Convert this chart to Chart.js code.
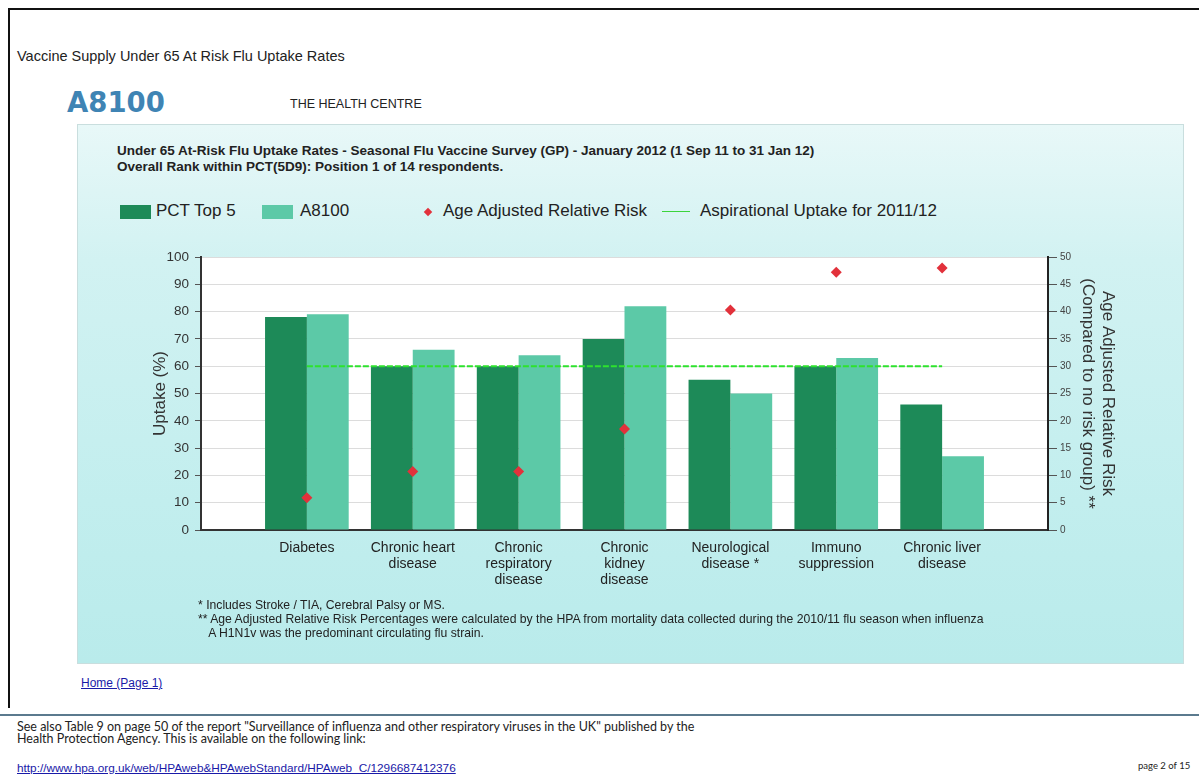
<!DOCTYPE html>
<html>
<head>
<meta charset="utf-8">
<title>Under 65 At-Risk Flu Uptake Rates</title>
<script src="https://cdn.jsdelivr.net/npm/chart.js@4.4.1/dist/chart.umd.min.js"></script>
<style>
  body { margin: 0; width: 1199px; height: 780px; overflow: hidden; background: #fff;
         font-family: "Liberation Sans", Arial, sans-serif; color: #222; position: relative; }
  .abs { position: absolute; white-space: nowrap; }
  #frame { position: absolute; left: 8px; top: 8px; width: 1200px; height: 698px;
           border-left: 2px solid #111; border-top: 2px solid #111; }
  #panel { position: absolute; left: 77px; top: 124px; width: 1105px; height: 538px;
           border: 1px solid #c9dede;
           background: linear-gradient(#e8f8f8 0%, #d2f2f2 25%, #c2eeee 70%, #b9ebeb 100%); }
  .legend { position: absolute; top: 201px; font-size: 17px; color: #222; }
  .sw { position: absolute; width: 31px; height: 14px; }
  .dia { position: absolute; width: 6px; height: 6px; background: #e2313b; transform: rotate(45deg); }
  .ln { position: absolute; width: 28px; height: 0; border-top: 1.5px solid #3cd43c; }
  .note { font-size: 12.2px; color: #222; }
  .foot { font-family: Lato, "Open Sans", sans-serif; font-size: 12.5px; color: #222; }
  a { color: #1a1aa8; }
  #chartBox { position: absolute; left: 140px; top: 240px; width: 1040px; height: 360px; }
</style>
</head>
<body>
<div id="frame"></div>
<div class="abs" style="left:17px; top:48px; font-size:14.5px;">Vaccine Supply Under 65 At Risk Flu Uptake Rates</div>
<div class="abs" style="left:67px; top:86px; font-family:'DejaVu Sans'; font-size:27.5px; font-weight:bold; color:#3f84b4;">A8100</div>
<div class="abs" style="left:290px; top:97px; font-size:12.5px;">THE HEALTH CENTRE</div>

<div id="panel"></div>
<div class="abs" style="left:117px; top:143px; font-size:13.5px; font-weight:bold; line-height:16px;">
Under 65 At-Risk Flu Uptake Rates - Seasonal Flu Vaccine Survey (GP) - January 2012 (1 Sep 11 to 31 Jan 12)<br>
Overall Rank within PCT(5D9): Position 1 of 14 respondents.</div>

<div class="sw" style="left:120px; top:205px; background:#1d8a58;"></div>
<div class="legend" style="left:156px;">PCT Top 5</div>
<div class="sw" style="left:262px; top:205px; background:#5cc9a7;"></div>
<div class="legend" style="left:300px;">A8100</div>
<div class="dia" style="left:425px; top:209px;"></div>
<div class="legend" style="left:443px;">Age Adjusted Relative Risk</div>
<div class="ln" style="left:662px; top:211px;"></div>
<div class="legend" style="left:700px;">Aspirational Uptake for 2011/12</div>

<div id="chartBox"><canvas id="chart" width="1040" height="360"></canvas></div>

<div class="abs note" style="left:198px; top:598px; line-height:14px;">
* Includes Stroke / TIA, Cerebral Palsy or MS.<br>
** Age Adjusted Relative Risk Percentages were calculated by the HPA from mortality data collected during the 2010/11 flu season when influenza<br>
&nbsp;&nbsp;&nbsp;A H1N1v was the predominant circulating flu strain.</div>

<div class="abs" style="left:81px; top:676px; font-size:12px;"><a href="#">Home (Page 1)</a></div>
<div class="abs" style="left:0; top:714px; width:1199px; height:2px; background:#5b7a8e;"></div>
<div class="abs foot" style="left:17px; top:721px; line-height:12px;">
See also Table 9 on page 50 of the report "Surveillance of influenza and other respiratory viruses in the UK" published by the<br>
Health Protection Agency. This is available on the following link:</div>
<div class="abs" style="left:17px; top:761px; font-size:11.8px;"><a href="#">http://www.hpa.org.uk/web/HPAweb&amp;HPAwebStandard/HPAweb_C/1296687412376</a></div>
<div class="abs foot" style="left:1138px; top:760px; font-size:9.5px;">page 2 of 15</div>

<script>
// categories (multi-line labels)
const categories = [
  ['Diabetes'],
  ['Chronic heart', 'disease'],
  ['Chronic', 'respiratory', 'disease'],
  ['Chronic', 'kidney', 'disease'],
  ['Neurological', 'disease *'],
  ['Immuno', 'suppression'],
  ['Chronic liver', 'disease']
];
const pctTop5 = [78, 60, 60, 70, 55, 60, 46];
const a8100 = [79, 66, 64, 82, 50, 63, 27];
const relativeRisk = [5.9, 10.7, 10.7, 18.5, 40.3, 47.2, 48.0];
const aspirational = [60, 60, 60, 60, 60, 60, 60];
const uptakeTicks = [0, 10, 20, 30, 40, 50, 60, 70, 80, 90, 100];
const riskTicks = [0, 5, 10, 15, 20, 25, 30, 35, 40, 45, 50];

// one empty slot each side so the groups sit a full step in from the axes
const pad = arr => [null, ...arr, null];
const labels = ['', ...categories, ''];

const plotBg = {
  id: 'plotBg',
  beforeDraw(chart) {
    const { ctx, chartArea: a } = chart;
    ctx.save();
    ctx.fillStyle = '#ffffff';
    ctx.fillRect(a.left, a.top, a.right - a.left, a.bottom - a.top);
    ctx.restore();
  }
};

new Chart(document.getElementById('chart'), {
  type: 'bar',
  data: {
    labels: labels,
    datasets: [
      {
        type: 'line', label: 'Age Adjusted Relative Risk', data: pad(relativeRisk), yAxisID: 'y2',
        showLine: false, pointStyle: 'rectRot', pointRadius: 5.5, pointBackgroundColor: '#e2313b',
        pointBorderWidth: 0, order: 0
      },
      {
        type: 'line', label: 'Aspirational Uptake for 2011/12', data: pad(aspirational), yAxisID: 'y',
        borderColor: '#2ee22e', borderWidth: 2, borderDash: [6, 2], pointRadius: 0, order: 1
      },
      { label: 'PCT Top 5', data: pad(pctTop5), backgroundColor: '#1d8a58', yAxisID: 'y', order: 2 },
      { label: 'A8100', data: pad(a8100), backgroundColor: '#5cc9a7', yAxisID: 'y', order: 3 }
    ]
  },
  options: {
    responsive: false,
    animation: false,
    devicePixelRatio: 1,
    layout: { padding: { top: 17, left: 0, right: 0, bottom: 0 } },
    datasets: { bar: { barPercentage: 1.0, categoryPercentage: 0.79 } },
    plugins: { legend: { display: false }, tooltip: { enabled: false } },
    scales: {
      x: {
        offset: false,
        grid: { display: false, drawTicks: false },
        border: { color: '#333', width: 2 },
        ticks: {
          autoSkip: false, maxRotation: 0, padding: 10, color: '#222',
          font: { family: 'Liberation Sans', size: 14, lineHeight: 1.15 }
        },
        afterFit(s) { s.height = 70; }
      },
      y: {
        position: 'left', min: 0, max: 100,
        afterBuildTicks(s) { s.ticks = uptakeTicks.map(v => ({ value: v })); },
        grid: { color: '#dcdcdc', lineWidth: 1, tickLength: 6, tickColor: '#555' },
        border: { color: '#333', width: 2 },
        ticks: { padding: 6, color: '#333', font: { family: 'Liberation Sans', size: 13.5 } },
        title: {
          display: true, text: 'Uptake (%)', color: '#333', padding: { top: 10, bottom: 0 },
          font: { family: 'Liberation Sans', size: 17 }
        },
        afterFit(s) { s.width = 61; }
      },
      y2: {
        position: 'right', min: 0, max: 50,
        afterBuildTicks(s) { s.ticks = riskTicks.map(v => ({ value: v })); },
        grid: { drawOnChartArea: false, tickLength: 9, tickColor: '#555' },
        border: { color: '#222', width: 2 },
        ticks: { padding: 3, color: '#444', font: { family: 'Liberation Sans', size: 10 } },
        title: {
          display: true, color: '#333', padding: { top: 62, bottom: 0 },
          text: ['Age Adjusted Relative Risk', '(Compared to no risk group) **'],
          font: { family: 'Liberation Sans', size: 17, lineHeight: 1.2 }
        },
        afterFit(s) { s.width = 132; }
      }
    }
  },
  plugins: [plotBg]
});
</script>
</body>
</html>
